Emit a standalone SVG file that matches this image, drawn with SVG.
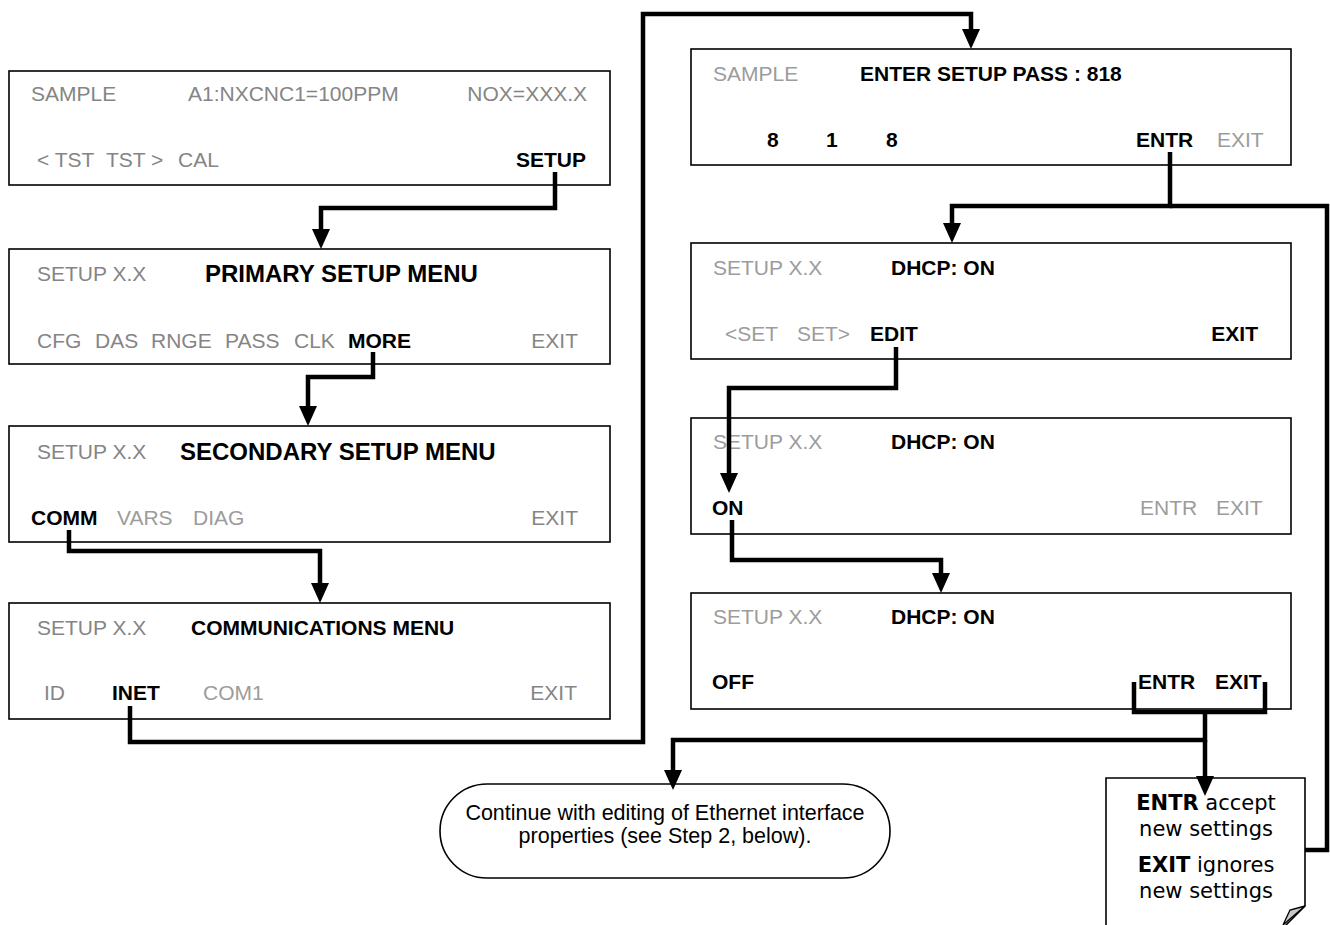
<svg xmlns="http://www.w3.org/2000/svg" width="1330" height="925" viewBox="0 0 1330 925">
<style>
.box{fill:#fff;stroke:#000;stroke-width:1.6}
text{font-family:"Liberation Sans",Arial,sans-serif;font-size:21px}
.g{fill:#858585}
.lg{fill:#9c9c9c}
.b{font-weight:bold;fill:#000}
.big{font-size:24px}
.c{stroke:#000;stroke-width:4.5;fill:none;stroke-linejoin:miter;stroke-linecap:butt}
.note{font-family:"DejaVu Sans",Verdana,sans-serif;font-size:21px;fill:#000}
</style>
<defs>
<marker id="ah" markerUnits="userSpaceOnUse" markerWidth="20" markerHeight="18" refX="0" refY="9" orient="auto" viewBox="0 0 20 18">
<path d="M0,0 L20,9 L0,18 z" fill="#000"/>
</marker>
</defs>

<g id="n1">
<rect class="box" x="9" y="71" width="601" height="114"/>
<text class="g" x="31" y="101">SAMPLE</text>
<text class="g" x="188" y="101">A1:NXCNC1=100PPM</text>
<text class="g" x="587" y="101" text-anchor="end">NOX=XXX.X</text>
<text class="g" x="37" y="167">&lt; TST</text>
<text class="g" x="106" y="167">TST &gt;</text>
<text class="g" x="178" y="167">CAL</text>
<text class="b" x="586" y="167" text-anchor="end">SETUP</text>
</g>

<g id="n2">
<rect class="box" x="9" y="249" width="601" height="115"/>
<text class="g" x="37" y="281">SETUP X.X</text>
<text class="b big" x="205" y="282">PRIMARY SETUP MENU</text>
<text class="g" x="37" y="348">CFG</text>
<text class="g" x="95" y="348">DAS</text>
<text class="g" x="151" y="348">RNGE</text>
<text class="g" x="225" y="348">PASS</text>
<text class="g" x="294" y="348">CLK</text>
<text class="b" x="348" y="348">MORE</text>
<text class="g" x="578" y="348" text-anchor="end">EXIT</text>
</g>

<g id="n3">
<rect class="box" x="9" y="426" width="601" height="116"/>
<text class="g" x="37" y="459">SETUP X.X</text>
<text class="b big" x="180" y="460">SECONDARY SETUP MENU</text>
<text class="b" x="31" y="525">COMM</text>
<text class="lg" x="117" y="525">VARS</text>
<text class="lg" x="193" y="525">DIAG</text>
<text class="g" x="578" y="525" text-anchor="end">EXIT</text>
</g>

<g id="n4">
<rect class="box" x="9" y="603" width="601" height="116"/>
<text class="g" x="37" y="635">SETUP X.X</text>
<text class="b" x="191" y="635">COMMUNICATIONS MENU</text>
<text class="g" x="44" y="700">ID</text>
<text class="b" x="112" y="700">INET</text>
<text class="lg" x="203" y="700">COM1</text>
<text class="g" x="577" y="700" text-anchor="end">EXIT</text>
</g>

<g id="n5">
<rect class="box" x="691" y="49" width="600" height="116"/>
<text class="lg" x="713" y="81">SAMPLE</text>
<text class="b" x="860" y="81">ENTER SETUP PASS : 818</text>
<text class="b" x="767" y="147">8</text>
<text class="b" x="826" y="147">1</text>
<text class="b" x="886" y="147">8</text>
<text class="b" x="1136" y="147">ENTR</text>
<text class="lg" x="1217" y="147">EXIT</text>
</g>

<g id="n6">
<rect class="box" x="691" y="243" width="600" height="116"/>
<text class="lg" x="713" y="275">SETUP X.X</text>
<text class="b" x="891" y="275">DHCP: ON</text>
<text class="lg" x="725" y="341">&lt;SET</text>
<text class="lg" x="797" y="341">SET&gt;</text>
<text class="b" x="870" y="341">EDIT</text>
<text class="b" x="1258" y="341" text-anchor="end">EXIT</text>
</g>

<g id="n7">
<rect class="box" x="691" y="418" width="600" height="116"/>
<text class="lg" x="713" y="449">SETUP X.X</text>
<text class="b" x="891" y="449">DHCP: ON</text>
<text class="b" x="712" y="515">ON</text>
<text class="lg" x="1140" y="515">ENTR</text>
<text class="lg" x="1216" y="515">EXIT</text>
</g>

<g id="n8">
<rect class="box" x="691" y="593" width="600" height="116"/>
<text class="lg" x="713" y="624">SETUP X.X</text>
<text class="b" x="891" y="624">DHCP: ON</text>
<text class="b" x="712" y="689">OFF</text>
<text class="b" x="1138" y="689">ENTR</text>
<text class="b" x="1215" y="689">EXIT</text>
</g>

<g id="n9">
<rect class="box" x="440" y="784" width="450" height="94" rx="47" ry="47"/>
<text x="665" y="820" text-anchor="middle" style="font-size:21.5px">Continue with editing of Ethernet interface</text>
<text x="665" y="843" text-anchor="middle" style="font-size:21.5px">properties (see Step 2, below).</text>
</g>

<g id="n10">
<path d="M1106,930 V778 H1305 V906 L1281,930" fill="#fff" stroke="#000" stroke-width="1.6"/>
<path d="M1305,906 L1283,925 L1290,910 Z" fill="#c8c8c8" stroke="#000" stroke-width="1.3"/>
<text class="note" x="1206" y="810" text-anchor="middle"><tspan font-weight="bold">ENTR</tspan> accept</text>
<text class="note" x="1206" y="836" text-anchor="middle">new settings</text>
<text class="note" x="1206" y="872" text-anchor="middle"><tspan font-weight="bold">EXIT</tspan> ignores</text>
<text class="note" x="1206" y="898" text-anchor="middle">new settings</text>
</g>

<g id="connectors">
<path class="c" d="M555,172 V208 H321 V229" marker-end="url(#ah)"/>
<path class="c" d="M373,352 V377 H308 V406" marker-end="url(#ah)"/>
<path class="c" d="M69,530 V551 H320 V583" marker-end="url(#ah)"/>
<path class="c" d="M130,706 V742 H643 V14 H971 V29" marker-end="url(#ah)"/>
<path class="c" d="M1170,152 V206 H952 V223" marker-end="url(#ah)"/>
<path class="c" d="M1170,206 H1327 V850 H1305"/>
<path class="c" d="M896,347 V388 H729 V473" marker-end="url(#ah)"/>
<path class="c" d="M732,520 V560 H941 V573" marker-end="url(#ah)"/>
<path class="c" d="M1134,682 V712 H1265 V682"/>
<path class="c" d="M1205,712 V740 H673 V770" marker-end="url(#ah)"/>
<path class="c" d="M1205,740 V776" marker-end="url(#ah)"/>
</g>
</svg>
